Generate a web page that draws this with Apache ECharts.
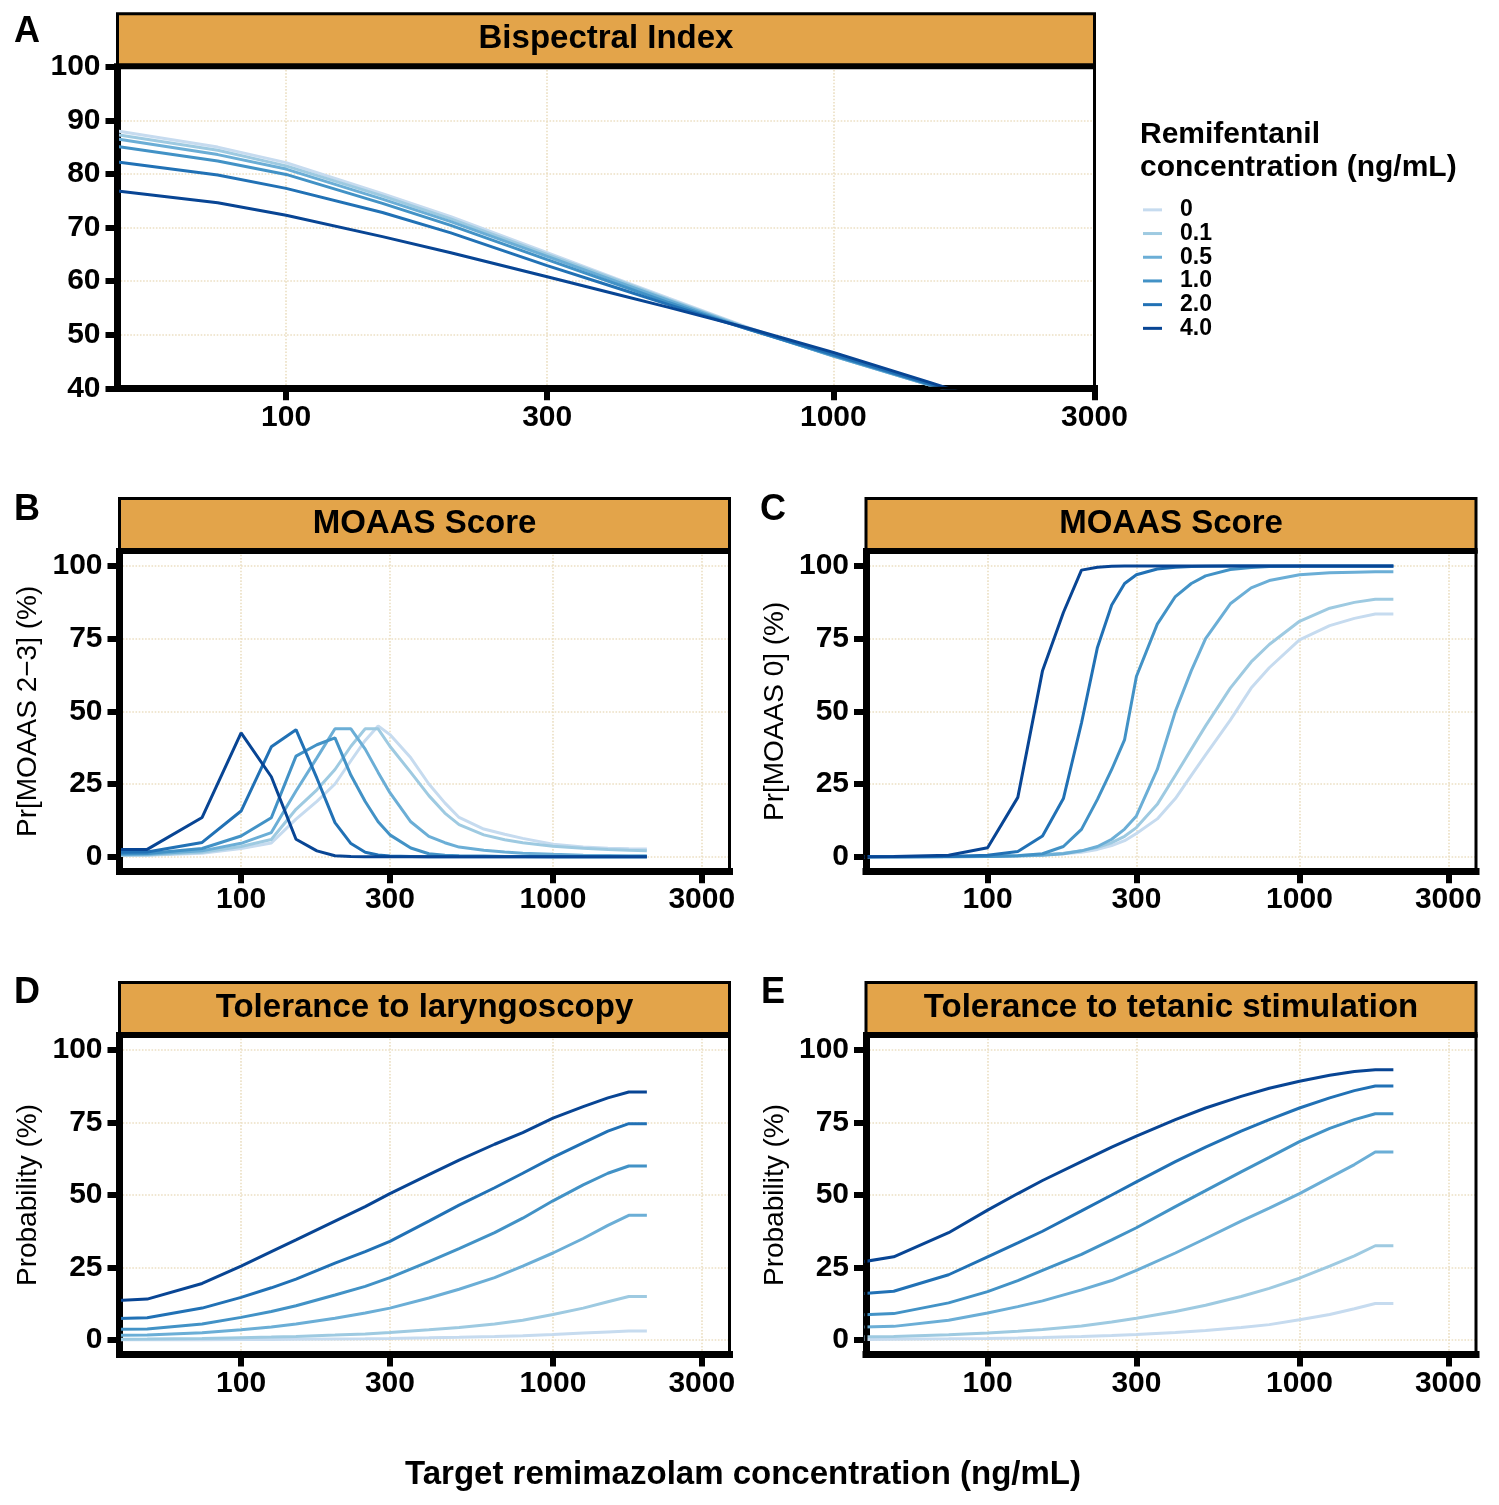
<!DOCTYPE html>
<html><head><meta charset="utf-8">
<script src="https://cdn.jsdelivr.net/npm/echarts@6/dist/echarts.min.js"></script>
<style>html,body{margin:0;padding:0;background:#fff}#c{width:1499px;height:1505px}</style>
</head><body><div id="c"></div>
<script>
// ---------------- DATA ----------------
const remiLevels = ['0', '0.1', '0.5', '1.0', '2.0', '4.0'];
const xTickValues = [100, 300, 1000, 3000];
const pctTickValues = [0, 25, 50, 75, 100];
const bisTickValues = [40, 50, 60, 70, 80, 90, 100];

// Panel A: Bispectral Index
const xBIS = [49.2, 75, 100, 150, 200, 300, 400, 500, 700, 1000, 1500, 2000];
const bis_0   = [88.0, 85.0, 82.1, 76.3, 72.0, 65.3, 60.5, 56.8, 51.3, 46.0, 40.6, 37.5];
const bis_01  = [87.3, 84.4, 81.5, 75.9, 71.6, 65.0, 60.3, 56.6, 51.2, 46.0, 40.6, 37.5];
const bis_05  = [86.5, 83.6, 80.9, 75.3, 71.1, 64.6, 60.0, 56.4, 51.1, 46.0, 40.6, 37.5];
const bis_1   = [85.1, 82.4, 79.9, 74.5, 70.4, 64.0, 59.5, 56.0, 51.0, 46.1, 40.7, 37.5];
const bis_2   = [82.2, 79.8, 77.3, 72.8, 69.0, 62.9, 58.8, 55.6, 51.0, 46.3, 40.8, 37.3];
const bis_4   = [76.8, 74.6, 72.3, 68.3, 65.3, 60.8, 57.6, 55.1, 51.2, 46.7, 41.1, 37.0];

// Panels B and C: MOAAS
const xMOAAS = [40, 50, 75, 100, 125, 150, 175, 200, 225, 250, 275, 300, 350, 400, 450, 500, 600, 700, 800, 1000, 1250, 1500, 1750, 2000];
const m23_0  = [0.4, 0.5, 1.2, 2.8, 4.7, 12.9, 19, 25, 33, 40, 45, 42, 34, 25, 18.5, 13.5, 9.5, 7.7, 6.3, 4.3, 3.3, 2.9, 2.7, 2.6];
const m23_01 = [0.5, 0.6, 1.5, 3.5, 5.9, 16.3, 23, 30, 38, 44, 44, 38, 29, 21, 15, 11, 7.5, 5.8, 4.8, 3.6, 2.9, 2.5, 2.2, 2.0];
const m23_05 = [0.7, 0.8, 2.0, 4.6, 8.3, 22.6, 34, 44, 44, 37, 29, 22, 12, 7, 4.8, 3.3, 2.2, 1.6, 1.2, 0.8, 0.5, 0.4, 0.3, 0.3];
const m23_1  = [1.0, 1.1, 2.8, 7.1, 13.4, 34.6, 38.5, 40.9, 28, 19, 12, 7.5, 3.0, 1.0, 0.5, 0.3, 0.2, 0.1, 0.1, 0, 0, 0, 0, 0];
const m23_2  = [1.5, 1.6, 4.9, 15.7, 37.8, 43.7, 27, 11.7, 4.5, 1.5, 0.6, 0.2, 0.1, 0, 0, 0, 0, 0, 0, 0, 0, 0, 0, 0];
const m23_4  = [2.5, 2.5, 13.5, 42.6, 27.5, 6.0, 2.0, 0.3, 0.1, 0, 0, 0, 0, 0, 0, 0, 0, 0, 0, 0, 0, 0, 0, 0];

const m0_0   = [0, 0, 0.05, 0.2, 0.4, 0.6, 1.0, 1.5, 2.5, 3.8, 5.5, 8, 13, 20, 28, 35, 47, 58, 65, 74.6, 79.5, 82, 83.5, 83.5];
const m0_01  = [0, 0, 0.05, 0.2, 0.4, 0.7, 1.2, 2.0, 3.2, 4.8, 7, 10, 18, 28, 37, 45, 58, 67, 73, 81, 85.5, 87.5, 88.6, 88.6];
const m0_05  = [0, 0, 0.05, 0.1, 0.25, 0.5, 1.0, 2.0, 3.5, 6, 9.5, 14, 30, 50, 64, 75, 87, 92.5, 95, 97, 97.7, 97.9, 98, 98];
const m0_1   = [0, 0, 0, 0.1, 0.3, 1.0, 3.5, 9.4, 19.7, 30, 40.3, 62, 80, 89.5, 94, 96.6, 98.8, 99.5, 99.8, 99.9, 99.9, 99.9, 99.9, 99.9];
const m0_2   = [0, 0, 0.1, 0.5, 1.8, 7.1, 20, 46, 72, 86.6, 94, 97, 99, 99.6, 99.8, 99.9, 100, 100, 100, 100, 100, 100, 100, 100];
const m0_4   = [0, 0.05, 0.5, 3.1, 20.4, 64, 84, 98.6, 99.6, 99.9, 100, 100, 100, 100, 100, 100, 100, 100, 100, 100, 100, 100, 100, 100];

// Panels D and E: tolerance
const xTOL = [40, 50, 75, 100, 125, 150, 200, 250, 300, 400, 500, 650, 800, 1000, 1250, 1500, 1750, 2000];
const lar_0  = [0.05, 0.06, 0.1, 0.15, 0.2, 0.25, 0.35, 0.45, 0.55, 0.75, 0.95, 1.2, 1.5, 1.9, 2.4, 2.8, 3.1, 3.1];
const lar_01 = [0.3, 0.35, 0.5, 0.8, 1.0, 1.2, 1.7, 2.1, 2.6, 3.5, 4.3, 5.5, 6.8, 8.8, 11, 13.2, 15, 15];
const lar_05 = [1.6, 1.7, 2.5, 3.5, 4.5, 5.5, 7.5, 9.3, 11, 14.5, 17.5, 21.5, 25.5, 30, 35, 39.5, 43, 43];
const lar_1  = [3.7, 3.8, 5.5, 7.8, 9.8, 11.8, 15.5, 18.5, 21.5, 27, 31.5, 37, 42, 48, 53.5, 57.5, 60, 60];
const lar_2  = [7.4, 7.7, 11, 14.7, 18, 21, 26.5, 30.5, 34, 41, 46.5, 52.5, 57.5, 63, 68, 72, 74.6, 74.6];
const lar_4  = [13.6, 14.1, 19.5, 25.5, 30.5, 34.5, 41, 46, 50.5, 57, 62, 67.5, 71.5, 76.5, 80.5, 83.5, 85.5, 85.5];

const tet_0  = [0.2, 0.25, 0.4, 0.55, 0.7, 0.85, 1.2, 1.55, 1.9, 2.6, 3.3, 4.3, 5.3, 7.0, 8.8, 10.8, 12.6, 12.6];
const tet_01 = [1.1, 1.2, 1.8, 2.4, 3.0, 3.6, 4.8, 6.2, 7.5, 9.8, 12, 15, 17.8, 21.3, 25.5, 29, 32.5, 32.5];
const tet_05 = [4.5, 4.7, 6.8, 9.3, 11.5, 13.5, 17.3, 20.5, 24, 30, 35, 41, 45.5, 50.5, 56, 60.5, 64.8, 64.8];
const tet_1  = [8.7, 9.1, 12.8, 16.7, 20.5, 24, 29.5, 34.5, 38.7, 46, 51.5, 58, 63, 68.4, 73, 76, 78, 78];
const tet_2  = [16, 16.8, 22.5, 28.7, 33.5, 37.5, 44.5, 50, 54.5, 61.5, 66.5, 72, 76, 80, 83.5, 86, 87.6, 87.6];
const tet_4  = [27, 28.7, 37, 44.8, 50.5, 55, 61.5, 66.5, 70.3, 76, 80, 84, 86.8, 89.2, 91.3, 92.6, 93.2, 93.2];

// ---------------- STYLE / LAYOUT ----------------
const FONT = "'Liberation Sans', Arial, Helvetica, sans-serif";
const lineColors = ['#c6dbef', '#9ecae1', '#6baed6', '#4292c6', '#2171b5', '#084594'];
const STRIP_FILL = '#E3A44A';
const GRID_COLOR = '#ecdfc3';

const panels = [
  {key: 'A', strip: 'Bispectral Index', yName: '', x: xBIS, ys: [bis_0, bis_01, bis_05, bis_1, bis_2, bis_4],
   yTicks: bisTickValues, ymin: 40, ymax: 100, xmin: 49.2, xmax: 3000.5,
   left: 117.5, top: 66.7, width: 977, height: 321.6, lx: 27, ly: 32},
  {key: 'B', strip: 'MOAAS Score', yName: 'Pr[MOAAS 2\u22123] (%)', x: xMOAAS, ys: [m23_0, m23_01, m23_05, m23_1, m23_2, m23_4],
   yTicks: pctTickValues, ymin: -5, ymax: 105, xmin: 40.75, xmax: 3681,
   left: 119.5, top: 551.5, width: 610, height: 319.7, lx: 27, ly: 510},
  {key: 'C', strip: 'MOAAS Score', yName: 'Pr[MOAAS 0] (%)', x: xMOAAS, ys: [m0_0, m0_01, m0_05, m0_1, m0_2, m0_4],
   yTicks: pctTickValues, ymin: -5, ymax: 105, xmin: 40.75, xmax: 3681,
   left: 866, top: 551.5, width: 610, height: 319.7, lx: 773, ly: 510},
  {key: 'D', strip: 'Tolerance to laryngoscopy', yName: 'Probability (%)', x: xTOL, ys: [lar_0, lar_01, lar_05, lar_1, lar_2, lar_4],
   yTicks: pctTickValues, ymin: -5, ymax: 105, xmin: 40.75, xmax: 3681,
   left: 119.5, top: 1035.5, width: 610, height: 319, lx: 27, ly: 993},
  {key: 'E', strip: 'Tolerance to tetanic stimulation', yName: 'Probability (%)', x: xTOL, ys: [tet_0, tet_01, tet_05, tet_1, tet_2, tet_4],
   yTicks: pctTickValues, ymin: -5, ymax: 105, xmin: 40.75, xmax: 3681,
   left: 866, top: 1035.5, width: 610, height: 319, lx: 773, ly: 993}
];

const STRIP_H = 53;
const grids = [], xAxes = [], yAxes = [], series = [], graphics = [];

panels.forEach((p, i) => {
  grids.push({left: p.left, top: p.top, width: p.width, height: p.height,
    show: true, borderWidth: 0, backgroundColor: '#fff',
    containLabel: false, outerBoundsMode: 'none'});
  xAxes.push({
    type: 'log', logBase: 10, gridIndex: i, min: p.xmin, max: p.xmax,
    axisLine: {show: true, onZero: false, lineStyle: {color: '#000', width: 7, cap: 'square'}},
    axisTick: {show: true, inside: false, length: 12, customValues: xTickValues, lineStyle: {color: '#000', width: 6}},
    axisLabel: {show: true, customValues: xTickValues, formatter: v => String(Math.round(v)),
      margin: 14, color: '#000', fontSize: 30, fontWeight: 'bold', fontFamily: FONT},
    splitLine: {show: true, lineStyle: {color: GRID_COLOR, type: 'dotted', width: 1.6}},
    minorTick: {show: false}, minorSplitLine: {show: false}, z: 1
  });
  yAxes.push({
    type: 'value', gridIndex: i, min: p.ymin, max: p.ymax,
    axisLine: {show: true, onZero: false, lineStyle: {color: '#000', width: 7, cap: 'square'}},
    axisTick: {show: true, length: 12, customValues: p.yTicks, lineStyle: {color: '#000', width: 6}},
    axisLabel: {show: true, customValues: p.yTicks, margin: 17, color: '#000', fontSize: 30, fontWeight: 'bold', fontFamily: FONT},
    splitLine: {show: true, lineStyle: {color: GRID_COLOR, type: 'dotted', width: 1.6}},
    name: p.yName, nameLocation: 'middle', nameGap: 77, nameRotate: 90,
    nameTextStyle: {color: '#000', fontSize: 28, fontFamily: FONT, fontWeight: 'normal'}, z: 0
  });
  p.ys.forEach((vals, j) => {
    series.push({
      type: 'line', name: remiLevels[j], xAxisIndex: i, yAxisIndex: i,
      data: p.x.map((xv, k) => [xv, vals[k]]),
      showSymbol: false, symbol: 'none', smooth: false, clip: true, silent: true,
      lineStyle: {color: lineColors[j], width: 3}, itemStyle: {color: lineColors[j]},
      z: 2
    });
  });
  // panel border (drawn above the dotted grid lines)
  graphics.push({type: 'rect', shape: {x: p.left, y: p.top, width: p.width, height: p.height},
    style: {fill: null, stroke: '#000', lineWidth: 3}, z: 50, silent: true});
  // facet strip
  graphics.push({type: 'rect', shape: {x: p.left, y: p.top - STRIP_H, width: p.width, height: STRIP_H},
    style: {fill: STRIP_FILL, stroke: '#000', lineWidth: 3}, z: 50});
  graphics.push({type: 'rect', shape: {x: p.left - 1.5, y: p.top - 3.5, width: p.width + 3, height: 6},
    style: {fill: '#000'}, z: 51});
  graphics.push({type: 'text', x: p.left + p.width / 2, y: p.top - STRIP_H / 2 - 1,
    style: {text: p.strip, fill: '#000', fontSize: 33, fontWeight: 'bold', fontFamily: FONT,
      align: 'center', verticalAlign: 'middle'}, z: 52});
  // panel letter
  graphics.push({type: 'text', x: p.lx, y: p.ly,
    style: {text: p.key, fill: '#000', fontSize: 36, fontWeight: 'bold', fontFamily: FONT,
      align: 'center', verticalAlign: 'middle'}, z: 52});
});

const option = {
  animation: false,
  backgroundColor: '#fff',
  textStyle: {fontFamily: FONT},
  title: [
    {text: 'Remifentanil\nconcentration (ng/mL)', left: 1135, top: 113,
      textStyle: {fontSize: 30, fontWeight: 'bold', color: '#000', fontFamily: FONT, lineHeight: 33}},
    {text: 'Target remimazolam concentration (ng/mL)', left: 400, top: 1453,
      textStyle: {fontSize: 33, fontWeight: 'bold', color: '#000', fontFamily: FONT}}
  ],
  legend: {
    data: remiLevels, orient: 'vertical', left: 1138, top: 193,
    icon: 'rect', itemWidth: 19, itemHeight: 3, itemGap: 0,
    selectedMode: false,
    textStyle: {fontSize: 23, fontWeight: 'bold', color: '#000', fontFamily: FONT, lineHeight: 23.7, padding: [0, 0, 0, 13]}
  },
  grid: grids,
  xAxis: xAxes,
  yAxis: yAxes,
  series: series,
  graphic: {elements: graphics}
};

const chart = echarts.init(document.getElementById('c'), null, {renderer: 'canvas', width: 1499, height: 1505});
chart.setOption(option);
</script>
</body></html>
